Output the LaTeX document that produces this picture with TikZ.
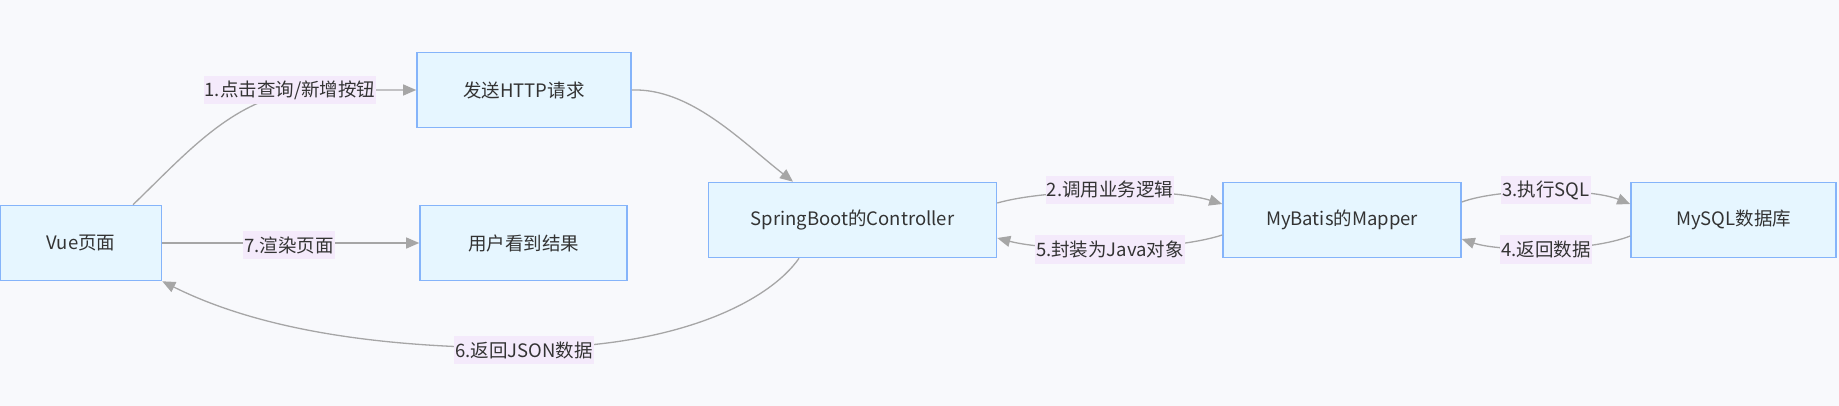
\documentclass[tikz,border=0pt]{standalone}
\usepackage{fontspec}
\setmainfont{Noto Sans CJK SC}
\usetikzlibrary{arrows.meta,calc}
\definecolor{bgc}{HTML}{F8F9FC}
\definecolor{boxfill}{HTML}{E6F6FF}
\definecolor{boxline}{HTML}{85B4FA}
\definecolor{lblfill}{HTML}{F4EAFB}
\definecolor{edgec}{HTML}{A6A6A6}
\definecolor{txt}{HTML}{333333}
\begin{document}
\begin{tikzpicture}[x=1pt,y=-1pt,
  box/.style={draw=boxline, fill=boxfill, line width=1.6pt, minimum height=75pt, inner sep=0pt, text=txt, font=\fontsize{18.5}{22}\selectfont},
  lbl/.style={fill=lblfill, inner xsep=1pt, inner ysep=0pt, minimum height=28pt, text=txt, font=\fontsize{18.5}{22}\selectfont},
  conn/.style={draw=edgec, line width=1.3pt, -{Triangle[length=13pt,width=11pt]}},
]
\fill[bgc] (0,0) rectangle (1839,406);
\useasboundingbox (0,0) rectangle (1839,406);

\node[box, minimum width=161pt] (vue) at (81,243) {Vue页面};
\node[box, minimum width=214pt] (http) at (524,90) {发送HTTP请求};
\node[box, minimum width=207pt] (user) at (523.5,243) {用户看到结果};
\node[box, minimum width=288pt] (ctrl) at (852.5,220) {SpringBoot的Controller};
\node[box, minimum width=238pt] (mapper) at (1342,220) {MyBatis的Mapper};
\node[box, minimum width=205pt] (mysql) at (1733.5,220) {MySQL数据库};

\draw[conn] ($(vue.north)+(52,0)$) .. controls (190,150) and (240,90) .. (320,90) -- (http.west);
\draw[conn] (http.east) .. controls (690,88) and (740,140) .. ($(ctrl.north)+(-59.5,0)$);
\draw[conn] ($(ctrl.east)+(0,-17)$) .. controls (1050,188) and (1170,188) .. ($(mapper.west)+(0,-16)$);
\draw[conn] ($(mapper.west)+(0,15)$) .. controls (1170,252) and (1050,252) .. ($(ctrl.east)+(0,18)$);
\draw[conn] ($(mapper.east)+(0,-18)$) .. controls (1500,188) and (1590,188) .. ($(mysql.west)+(0,-16)$);
\draw[conn] ($(mysql.west)+(0,16)$) .. controls (1590,252) and (1500,252) .. ($(mapper.east)+(0,19)$);
\draw[conn] ($(ctrl.south)+(-53.5,0)$) .. controls (770,300) and (680,348) .. (524,348) .. controls (380,348) and (260,330) .. (vue.south east);
\draw[conn] (vue.east) -- (user.west);

\node[lbl] (l1) at (290,90.5) {1.点击查询/新增按钮};
\node[lbl] (l7) at (289,245) {7.渲染页面};
\node[lbl] (l2) at (1110,190) {2.调用业务逻辑};
\node[lbl] (l5) at (1110,249.5) {5.封装为Java对象};
\node[lbl] (l3) at (1546,190) {3.执行SQL};
\node[lbl] (l4) at (1546,249.5) {4.返回数据};
\node[lbl] (l6) at (524,350) {6.返回JSON数据};
\end{tikzpicture}
\end{document}
